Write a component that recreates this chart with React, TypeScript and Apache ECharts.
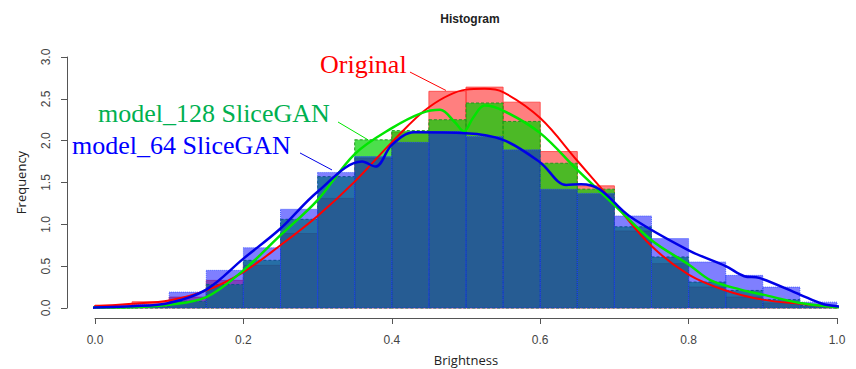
import React, { useEffect, useRef } from "react";
import * as echarts from "echarts";

// ---- data ----
const binStarts = [0, 0.05, 0.1, 0.15, 0.2, 0.25, 0.3, 0.35, 0.4, 0.45, 0.5, 0.55, 0.6, 0.65, 0.7, 0.75, 0.8, 0.85, 0.9, 0.95];
const binWidth = 0.05;
const originalHist = [0.035, 0.075, 0.13, 0.33, 0.51, 0.89, 1.31, 1.79, 2.1, 2.59, 2.64, 2.46, 1.87, 1.46, 0.92, 0.53, 0.25, 0.13, 0.06, 0.02];
const model128Hist = [0.01, 0.02, 0.08, 0.28, 0.57, 1.06, 1.57, 2.01, 2.12, 2.25, 2.45, 2.23, 1.73, 1.42, 0.97, 0.61, 0.31, 0.21, 0.1, 0.03];
const model64Hist = [0.01, 0.04, 0.19, 0.45, 0.72, 1.18, 1.62, 1.81, 1.98, 2.11, 2.05, 1.89, 1.42, 1.37, 1.1, 0.83, 0.55, 0.39, 0.25, 0.07];

const originalDensity: [number, number][] = [
  [-0.034, 0.01], [0.0, 0.02], [0.05, 0.05], [0.1, 0.09], [0.15, 0.21], [0.2, 0.43], [0.25, 0.75],
  [0.3, 1.1], [0.35, 1.51], [0.4, 1.98], [0.45, 2.4], [0.5, 2.61],
  [0.525, 2.62], [0.55, 2.58], [0.6, 2.27], [0.65, 1.76],
  [0.7, 1.25], [0.75, 0.74], [0.8, 0.4], [0.85, 0.21], [0.9, 0.1], [0.95, 0.05],
  [1.0, 0.01], [1.02, 0.0],
];
const model128Density: [number, number][] = [
  [-0.034, 0.0], [0.0, 0.005], [0.05, 0.01], [0.1, 0.04], [0.15, 0.13], [0.2, 0.45], [0.25, 0.87],
  [0.3, 1.29], [0.35, 1.84], [0.4, 2.15], [0.44, 2.33], [0.465, 2.37], [0.485, 2.22],
  [0.497, 2.11], [0.51, 2.28], [0.525, 2.42], [0.55, 2.36], [0.6, 2.09], [0.65, 1.65],
  [0.7, 1.23], [0.75, 0.81], [0.8, 0.52], [0.83, 0.33], [0.87, 0.22], [0.9, 0.16], [0.95, 0.06],
  [1.0, 0.01], [1.02, 0.0],
];
const model64Density: [number, number][] = [
  [-0.034, 0.0], [0.0, 0.005], [0.05, 0.02], [0.1, 0.06], [0.15, 0.22], [0.2, 0.59], [0.25, 0.95],
  [0.3, 1.39], [0.36, 1.75], [0.378, 1.69], [0.4, 1.95], [0.43, 2.1],
  [0.5, 2.09], [0.55, 2.01], [0.6, 1.74], [0.635, 1.47], [0.655, 1.48],
  [0.68, 1.42], [0.72, 1.1], [0.8, 0.69], [0.85, 0.5], [0.875, 0.38], [0.895, 0.36],
  [0.95, 0.16], [0.98, 0.05], [1.0, 0.02], [1.02, 0.01],
];

// annotations (data coordinates)
const labels = [
  { text: "Original", x: 0.3032, y: 2.916, color: "#ff0000" },
  { text: "model_128 SliceGAN", x: 0.004, y: 2.325, color: "#00b050" },
  { text: "model_64 SliceGAN", x: -0.031, y: 1.948, color: "#0000ff" },
];
const arrowOriginal: [number, number][] = [[0.4245, 2.82], [0.473, 2.6]];
const arrow128: [number, number][] = [[0.3275, 2.223], [0.368, 2.01]];
const arrow64: [number, number][] = [[0.2763, 1.853], [0.3194, 1.65]];

function barData(values: number[]) {
  return binStarts.map((s, i) => [s, s + binWidth, values[i]]);
}

function barRenderer(fill: string, stroke: string, dash: number[] | null) {
  return (params: any, api: any) => {
    const p0 = api.coord([api.value(0), api.value(2)]);
    const p1 = api.coord([api.value(1), 0]);
    return {
      type: "rect",
      shape: { x: p0[0], y: p0[1], width: p1[0] - p0[0], height: p1[1] - p0[1] },
      style: { fill, stroke, lineWidth: 1, lineDash: dash || undefined },
    };
  };
}

function arrowLine(pts: [number, number][], color: string) {
  return {
    silent: true,
    symbol: ["none", "triangle"],
    symbolSize: [0, 9],
    label: { show: false },
    lineStyle: { color, width: 1, type: "solid" },
    data: [[{ coord: pts[0] }, { coord: pts[1] }]],
  };
}

function densitySeries(name: string, data: [number, number][], color: string, width: number, arrow: [number, number][], z: number) {
  return {
    type: "line",
    name,
    data,
    smooth: 0.35,
    showSymbol: false,
    clip: false,
    lineStyle: { color, width },
    markLine: arrowLine(arrow, color),
    z,
  };
}

export default function App() {
  const ref = useRef<HTMLDivElement>(null);
  useEffect(() => {
    if (!ref.current) return;
    const chart = echarts.init(ref.current, undefined, { renderer: "svg" });
    const axisColor = "#555";
    const labelFont = { color: "#444", fontSize: 12, fontFamily: "Liberation Sans" };
    chart.setOption({
      animation: false,
      backgroundColor: "#fff",
      title: {
        text: "Histogram",
        left: 465,
        top: 8,
        textAlign: "center",
        textStyle: { fontSize: 12, fontWeight: "bold", color: "#222", fontFamily: "Liberation Sans" },
      },
      grid: [
        { left: 95, top: 57, width: 742, height: 251 },
        { left: 95, top: 310, width: 742, height: 8 },
      ],
      xAxis: [
        {
          type: "value",
          gridIndex: 0,
          min: 0,
          max: 1,
          interval: 0.2,
          show: false,
        },
        {
          type: "value",
          gridIndex: 1,
          min: 0,
          max: 1,
          interval: 0.2,
          position: "bottom",
          name: "Brightness",
          nameLocation: "middle",
          nameGap: 35,
          nameTextStyle: { color: "#222", fontSize: 13, fontFamily: "Open Sans" },
          axisLine: { show: true, onZero: false, lineStyle: { color: axisColor, width: 1 } },
          axisTick: { show: true, inside: false, length: 6, lineStyle: { color: axisColor, width: 1 } },
          axisLabel: { ...labelFont, margin: 16, formatter: (v: number) => v.toFixed(1) },
          splitLine: { show: false },
          z: 20,
        },
      ],
      yAxis: [
        {
          type: "value",
          gridIndex: 0,
          min: 0,
          max: 3,
          interval: 0.5,
          offset: 28,
          name: "Frequency",
          nameLocation: "middle",
          nameGap: 40,
          nameTextStyle: { color: "#222", fontSize: 13, fontFamily: "Open Sans" },
          axisLine: { show: true, onZero: false, lineStyle: { color: axisColor, width: 1 } },
          axisTick: { show: true, inside: false, length: 6, lineStyle: { color: axisColor, width: 1 } },
          axisLabel: { ...labelFont, margin: 15, rotate: 90, formatter: (v: number) => v.toFixed(1) },
          splitLine: { show: false },
        },
        {
          type: "value",
          gridIndex: 1,
          min: 0,
          max: 1,
          axisLine: { show: false },
          axisTick: { show: false },
          axisLabel: { show: false },
          splitLine: { show: false },
        },
      ],
      series: [
        {
          type: "custom",
          name: "OriginalHist",
          clip: false,
          renderItem: barRenderer("rgba(255,0,0,0.5)", "rgba(255,60,60,0.8)", null),
          encode: { x: [0, 1], y: 2 },
          data: barData(originalHist),
          z: 1,
        },
        {
          type: "custom",
          name: "Model128Hist",
          clip: false,
          renderItem: barRenderer("rgba(0,210,0,0.7)", "#1f9a1f", [3, 2]),
          encode: { x: [0, 1], y: 2 },
          data: barData(model128Hist),
          z: 2,
        },
        {
          type: "custom",
          name: "Model64Hist",
          clip: false,
          renderItem: barRenderer("rgba(0,0,255,0.5)", "rgba(40,70,255,0.8)", [1, 1]),
          encode: { x: [0, 1], y: 2 },
          data: barData(model64Hist),
          z: 3,
        },
        densitySeries("Original", originalDensity, "#ff0000", 2, arrowOriginal, 4),
        densitySeries("model_128", model128Density, "#00e600", 2.5, arrow128, 5),
        densitySeries("model_64", model64Density, "#0000e6", 2.5, arrow64, 6),
      ],
    });
    const graphics = labels.map((l) => {
      const p = chart.convertToPixel({ gridIndex: 0 }, [l.x, l.y]) as number[];
      return {
        type: "text",
        x: p[0],
        y: p[1],
        z: 100,
        style: {
          text: l.text,
          fill: l.color,
          fontSize: 26,
          fontFamily: "Liberation Serif",
          align: "left",
          verticalAlign: "middle",
        },
      };
    });
    chart.setOption({ graphic: graphics });
    return () => chart.dispose();
  }, []);
  return (
    <div
      ref={ref}
      style={{ position: "fixed", left: 0, top: 0, width: 856, height: 369, background: "#fff" }}
    />
  );
}
